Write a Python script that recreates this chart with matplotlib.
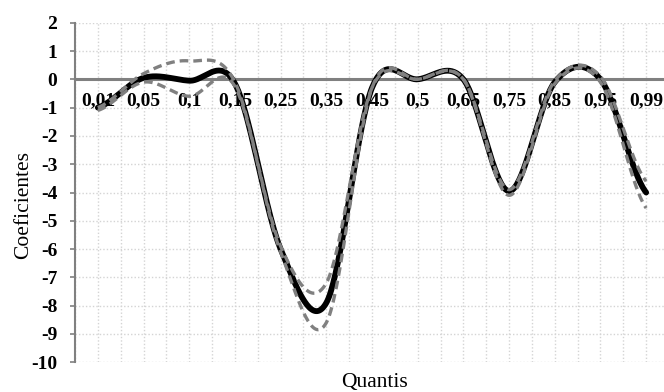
import numpy as np
import matplotlib
matplotlib.use("Agg")
import matplotlib.pyplot as plt

quantis = ["0,01", "0,05", "0,1", "0,15", "0,25", "0,35", "0,45",
           "0,5", "0,65", "0,75", "0,85", "0,95", "0,99"]
coef = [-1.0, 0.05, -0.05, -0.15, -6.0, -7.9, -0.3, 0.0, 0.0, -3.95, -0.1, 0.0, -4.0]
upper = [-1.0, 0.2, 0.65, -0.1, -5.9, -7.2, -0.3, 0.0, 0.0, -3.9, -0.05, 0.1, -3.6]
lower = [-1.1, -0.1, -0.6, -0.25, -6.1, -8.6, -0.3, 0.0, 0.0, -4.1, -0.15, -0.1, -4.55]
yticks = list(range(-10, 3))


def smooth(vals, n=40):
    # catmull-rom, like excel's smoothed line
    p = np.r_[vals[0], vals, vals[-1]]
    xs, ys = [], []
    t = np.linspace(0, 1, n, endpoint=False)
    for i in range(len(vals) - 1):
        p0, p1, p2, p3 = p[i:i + 4]
        m1 = (p2 - p0) / 2
        m2 = (p3 - p1) / 2
        h00 = 2 * t**3 - 3 * t**2 + 1
        h10 = t**3 - 2 * t**2 + t
        h01 = -2 * t**3 + 3 * t**2
        h11 = t**3 - t**2
        xs.append(i + t)
        ys.append(h00 * p1 + h10 * m1 + h01 * p2 + h11 * m2)
    xs.append([len(vals) - 1])
    ys.append([vals[-1]])
    return np.concatenate(xs), np.concatenate(ys)


fig = plt.figure(figsize=(6.64, 3.92), dpi=100)
ax = fig.add_axes([75 / 664, 1 - 362.3 / 392, 594 / 664, 339.6 / 392])

x = np.arange(len(quantis))
xs, ys = smooth(coef)
ax.plot(xs, ys, color="black", lw=4.2, solid_capstyle="round", zorder=3)
for s in (upper, lower):
    xs, ys = smooth(s)
    ax.plot(xs, ys, color="#808080", lw=2.4, dashes=(2.6, 1.5), zorder=4)

ax.set_xlim(-0.5, 12.5)
ax.set_ylim(-10, 2)
ax.set_xticks(x)
ax.set_xticklabels(quantis)
ax.set_xticks(np.arange(-0.5, 12.6, 1), minor=True)
ax.set_yticks(yticks)
ax.set_yticklabels([str(v) for v in yticks])

ax.grid(which="both", axis="x", color="#d4d4d4", ls=(0, (1, 1.5)), lw=1)
ax.grid(which="major", axis="y", color="#d4d4d4", ls=(0, (1, 1.5)), lw=1)
ax.set_axisbelow(True)

for s in ("top", "right"):
    ax.spines[s].set_visible(False)
ax.spines["bottom"].set_position(("data", 0))
ax.spines["bottom"].set_color("#808080")
ax.spines["bottom"].set_linewidth(2.2)
ax.spines["left"].set_color("#808080")
ax.spines["left"].set_linewidth(1.5)

font = {"family": "Liberation Serif", "weight": "bold", "size": 14}
ax.tick_params(axis="x", which="both", length=0, pad=9)
ax.tick_params(axis="y", length=3.6, color="#808080", width=1.2, pad=9)
for lab in ax.get_xticklabels() + ax.get_yticklabels():
    lab.set_fontproperties(font)

fig.text(24 / 664, 1 - 205 / 392, "Coeficientes", rotation=90, ha="center",
         va="center", family="Liberation Serif", size=15.5)
fig.text(375 / 664, 1 - 382 / 392, "Quantis", ha="center", va="center",
         family="Liberation Serif", size=15.5)

fig.savefig("out.png", dpi=100)
